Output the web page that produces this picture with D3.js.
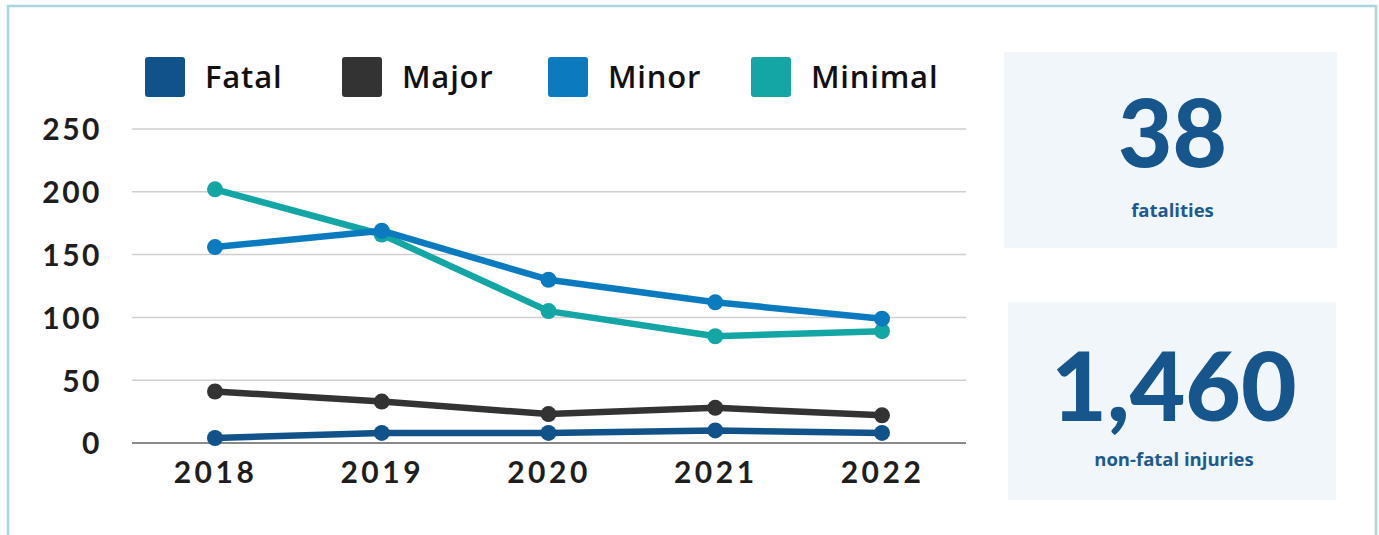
<!DOCTYPE html>
<html><head><meta charset="utf-8">
<script src="https://cdn.jsdelivr.net/npm/d3@7"></script>
<style>body{margin:0;background:#fff;}svg{display:block;}</style>
</head><body>
<script>
const years = ["2018","2019","2020","2021","2022"];
const fatal = [4, 8, 8, 10, 8];
const major = [41, 33, 23, 28, 22];
const minor = [156, 169, 130, 112, 99];
const minimal = [202, 166, 105, 85, 89];
const seriesNames = ["Fatal","Major","Minor","Minimal"];
const seriesColors = ["#11528a","#333333","#0b7abf","#14a5a5"];
const yTicks = [0, 50, 100, 150, 200, 250];
const statValues = ["38","1,460"];
const statLabels = ["fatalities","non-fatal injuries"];

const W = 1379, H = 535;
const svg = d3.select("body").append("svg").attr("width", W).attr("height", H);
svg.append("rect").attr("width", W).attr("height", H).attr("fill", "#fff");
svg.append("rect").attr("x", 8).attr("y", 6).attr("width", 1368).attr("height", 560)
  .attr("fill", "none").attr("stroke", "#a9d6de").attr("stroke-width", 2.5);

const x = d3.scalePoint().domain(years).range([215, 882]);
const y = d3.scaleLinear().domain([0, 250]).range([443, 129]);
const font = "Lato, 'Open Sans', sans-serif";
const font2 = "'Open Sans', Lato, sans-serif";

// gridlines
svg.append("g").selectAll("line").data(yTicks).join("line")
  .attr("x1", 132).attr("x2", 966)
  .attr("y1", d => y(d)).attr("y2", d => y(d))
  .attr("stroke", d => d === 0 ? "#8a8a8a" : "#cfcfcf")
  .attr("stroke-width", d => d === 0 ? 2 : 1.5);

// y axis labels
const yAxis = d3.axisLeft(y).tickValues(yTicks).tickSize(0).tickPadding(0);
const gy = svg.append("g").attr("transform", "translate(102,0)").call(yAxis);
gy.select(".domain").remove();
gy.selectAll("text").attr("font-family", font).attr("font-weight", 700)
  .attr("font-size", 30).attr("fill", "#1e1e1e").attr("letter-spacing", 2.5).attr("dy", "0.36em");

// x axis labels
const xAxis = d3.axisBottom(x).tickSize(0).tickPadding(0);
const gx = svg.append("g").attr("transform", "translate(0,462)").call(xAxis);
gx.select(".domain").remove();
gx.selectAll("text").attr("font-family", font).attr("font-weight", 700)
  .attr("font-size", 30).attr("fill", "#1e1e1e").attr("letter-spacing", 3.5).attr("dy", "0.71em");

// series
const allSeries = [fatal, major, minor, minimal];
const drawOrder = [3, 2, 1, 0];
const line = d3.line().x((d, i) => x(years[i])).y(d => y(d));
drawOrder.forEach(si => {
  const g = svg.append("g");
  g.append("path").datum(allSeries[si]).attr("d", line)
    .attr("fill", "none").attr("stroke", seriesColors[si]).attr("stroke-width", 6.5)
    .attr("stroke-linejoin", "round");
  g.selectAll("circle").data(allSeries[si]).join("circle")
    .attr("cx", (d, i) => x(years[i])).attr("cy", d => y(d)).attr("r", 8)
    .attr("fill", seriesColors[si]);
});

// legend
const legendX = [145, 342, 548, 751];
const lg = svg.append("g");
seriesNames.forEach((n, i) => {
  lg.append("rect").attr("x", legendX[i]).attr("y", 57).attr("width", 40).attr("height", 40)
    .attr("rx", 3).attr("fill", seriesColors[i]);
  lg.append("text").attr("x", legendX[i] + 60).attr("y", 88).text(n)
    .attr("font-family", font2).attr("font-weight", 600).attr("font-size", 31)
    .attr("fill", "#111").attr("letter-spacing", 0.8);
});

// stat boxes
const boxes = [{x:1004, y:52, w:333, h:196, vy:167, ly:217}, {x:1008, y:302, w:328, h:198, vy:421, ly:466}];
boxes.forEach((b, i) => {
  svg.append("rect").attr("x", b.x).attr("y", b.y).attr("width", b.w).attr("height", b.h)
    .attr("fill", "#f1f6fa");
  svg.append("text").attr("x", b.x + b.w / 2 + 2).attr("y", b.vy).attr("text-anchor", "middle")
    .text(statValues[i]).attr("font-family", font).attr("font-weight", 900)
    .attr("font-size", i === 0 ? 94 : 96).attr("fill", "#17568c");
  svg.append("text").attr("x", b.x + b.w / 2 + 2).attr("y", b.ly).attr("text-anchor", "middle")
    .text(statLabels[i]).attr("font-family", font2).attr("font-weight", 700)
    .attr("font-size", 18.5).attr("fill", "#1d5a8f");
});
</script>
</body></html>
